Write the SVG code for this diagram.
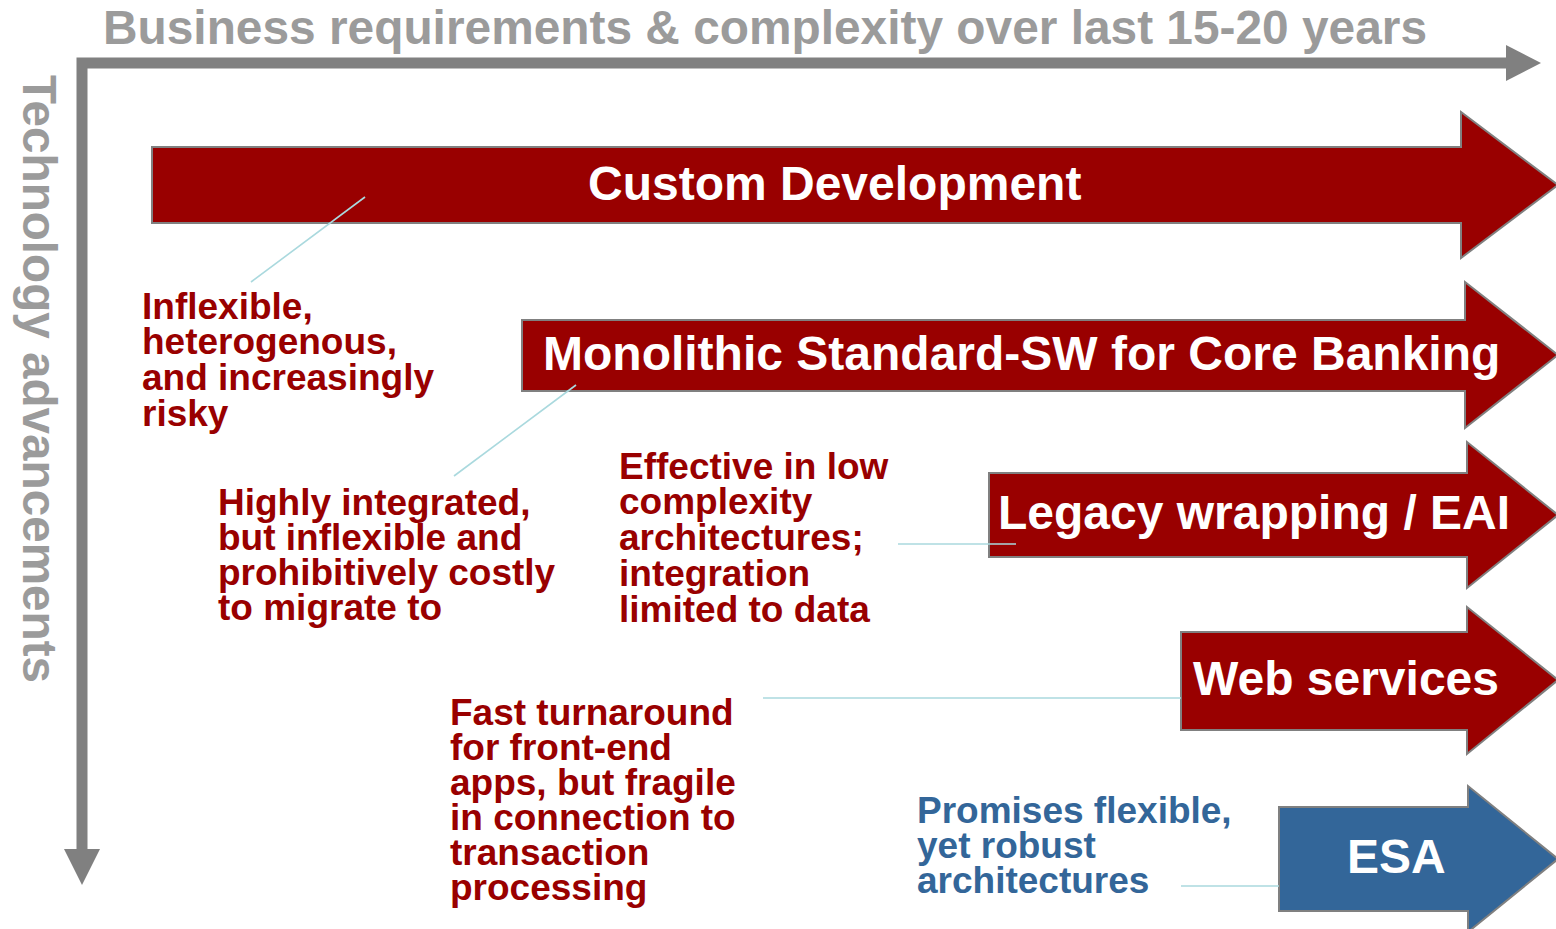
<svg xmlns="http://www.w3.org/2000/svg" width="1556" height="929" viewBox="0 0 1556 929">
<style>
text{font-family:"Liberation Sans",Arial,sans-serif;font-weight:bold}
.axis{fill:none;stroke:#808080;stroke-width:11;stroke-linejoin:miter}
.axhead{fill:#808080}
.axlabel{fill:#9b9b9b;font-size:48px}
.red{fill:#990000;stroke:#808080;stroke-width:2}
.blue{fill:#336699;stroke:#808080;stroke-width:2}
.lbl{fill:#ffffff;font-size:48px}
.note{fill:#990000;font-size:37px}
.noteb{fill:#336699;font-size:37px}
.conn{stroke:#aad9de;stroke-width:1.6;fill:none}
</style>
<g id="axes">
<path class="axis" d="M82,849 V63 H1506"/>
<polygon class="axhead" points="1506,45 1506,81 1541,63"/>
<polygon class="axhead" points="64,849 100,849 82,885"/>
<text class="axlabel" x="103" y="44" textLength="1324" lengthAdjust="spacingAndGlyphs">Business requirements &amp; complexity over last 15-20 years</text>
<text class="axlabel" transform="translate(23,75) rotate(90)" x="0" y="0" font-size="47" textLength="608" lengthAdjust="spacingAndGlyphs">Technology advancements</text>
</g>
<g id="custom-development">
<path class="red" d="M152,147 H1461 V112 L1558,185 L1461,258 V223 H152 Z"/>
<text class="lbl" x="588" y="200">Custom Development</text>
</g>
<g id="monolithic">
<path class="red" d="M522,320 H1465 V282 L1558,355 L1465,428 V391 H522 Z"/>
<text class="lbl" x="543" y="370">Monolithic Standard-SW for Core Banking</text>
</g>
<g id="legacy-wrapping">
<path class="red" d="M989,473 H1467 V442 L1558,515 L1467,588 V557 H989 Z"/>
<text class="lbl" x="998" y="529">Legacy wrapping / EAI</text>
</g>
<g id="web-services">
<path class="red" d="M1181,632 H1467 V607 L1558,680 L1467,754 V730 H1181 Z"/>
<text class="lbl" x="1193" y="695">Web services</text>
</g>
<g id="esa">
<path class="blue" d="M1279,807 H1468 V786 L1558,859 L1468,932 V911 H1279 Z"/>
<text class="lbl" x="1347" y="873">ESA</text>
</g>
<g id="connectors">
<line class="conn" x1="365" y1="197" x2="251" y2="282"/>
<line class="conn" x1="576" y1="385" x2="454" y2="476"/>
<line class="conn" x1="898" y1="544" x2="1016" y2="544"/>
<line class="conn" x1="763" y1="698" x2="1181" y2="698"/>
<line class="conn" x1="1181" y1="886" x2="1279" y2="886"/>
</g>
<g id="note-inflexible">
<text class="note"><tspan x="142" y="319">Inflexible,</tspan><tspan x="142" y="354">heterogenous,</tspan><tspan x="142" y="390">and increasingly</tspan><tspan x="142" y="426">risky</tspan></text>
</g>
<g id="note-highly">
<text class="note"><tspan x="218" y="515">Highly integrated,</tspan><tspan x="218" y="550">but inflexible and</tspan><tspan x="218" y="585">prohibitively costly</tspan><tspan x="218" y="620">to migrate to</tspan></text>
</g>
<g id="note-effective">
<text class="note"><tspan x="619" y="479">Effective in low</tspan><tspan x="619" y="514">complexity</tspan><tspan x="619" y="550">architectures;</tspan><tspan x="619" y="586">integration</tspan><tspan x="619" y="622">limited to data</tspan></text>
</g>
<g id="note-fast">
<text class="note"><tspan x="450" y="725">Fast turnaround</tspan><tspan x="450" y="760">for front-end</tspan><tspan x="450" y="795">apps, but fragile</tspan><tspan x="450" y="830">in connection to</tspan><tspan x="450" y="865">transaction</tspan><tspan x="450" y="900">processing</tspan></text>
</g>
<g id="note-promises">
<text class="noteb"><tspan x="917" y="823">Promises flexible,</tspan><tspan x="917" y="858">yet robust</tspan><tspan x="917" y="893">architectures</tspan></text>
</g>
</svg>
